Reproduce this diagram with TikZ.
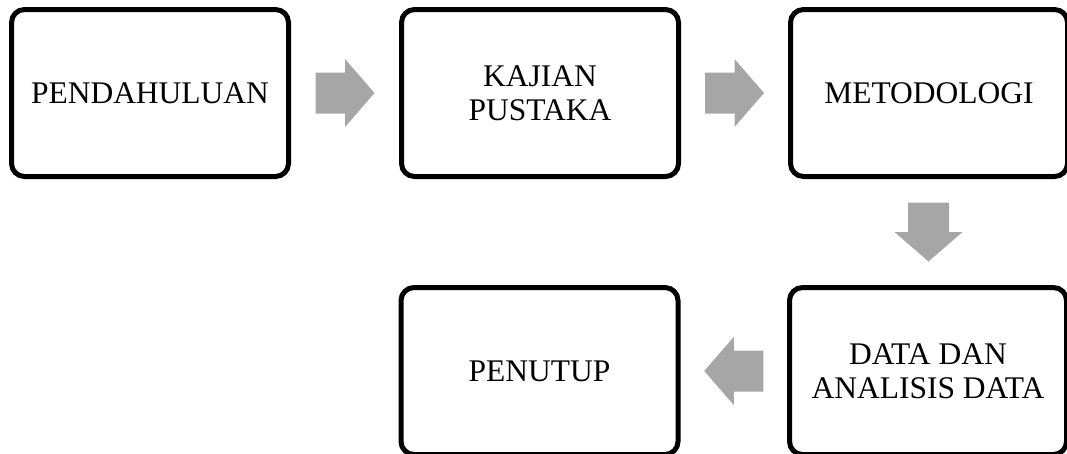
\documentclass[tikz,border=0pt]{standalone}
\usepackage{fontspec}
\setmainfont{Liberation Serif}
\usetikzlibrary{calc}
\definecolor{arrowgray}{HTML}{A6A6A6}
\tikzset{
  stage/.style={draw=black, fill=white, line width=5pt, rounded corners=13pt,
    minimum width=277pt, minimum height=167pt, align=center, inner sep=0pt,
    font=\fontsize{31.5}{34}\selectfont},
  pics/blockarrow/.style={code={
    \fill[arrowgray] (-29.5,-20.5) -- (0,-20.5) -- (0,-34) -- (29.5,0)
      -- (0,34) -- (0,20.5) -- (-29.5,20.5) -- cycle;}}
}
\begin{document}
\begin{tikzpicture}[x=1pt,y=-1pt]
\path[use as bounding box] (0,0) rectangle (1067,453);
\clip (0,0) rectangle (1067,453);
\node[stage] (pend) at (150,93) {PENDAHULUAN};
\node[stage] (kaji) at (540,93) {KAJIAN\\PUSTAKA};
\node[stage] (meto) at (929,93) {METODOLOGI};
\node[stage] (data) at (928,371) {DATA DAN\\ANALISIS DATA};
\node[stage] (penu) at (539.5,371) {PENUTUP};
\coordinate (a1) at ($(pend.east)!0.5!(kaji.west)$);
\coordinate (a2) at ($(kaji.east)!0.5!(meto.west)$);
\coordinate (a3) at ($(meto.south)!0.5!(data.north)$);
\coordinate (a4) at ($(data.west)!0.5!(penu.east)$);
\pic at (a1) {blockarrow};
\pic at (a2) {blockarrow};
\pic[rotate=-90] at (a3) {blockarrow};
\pic[rotate=180] at (a4) {blockarrow};
\end{tikzpicture}
\end{document}
